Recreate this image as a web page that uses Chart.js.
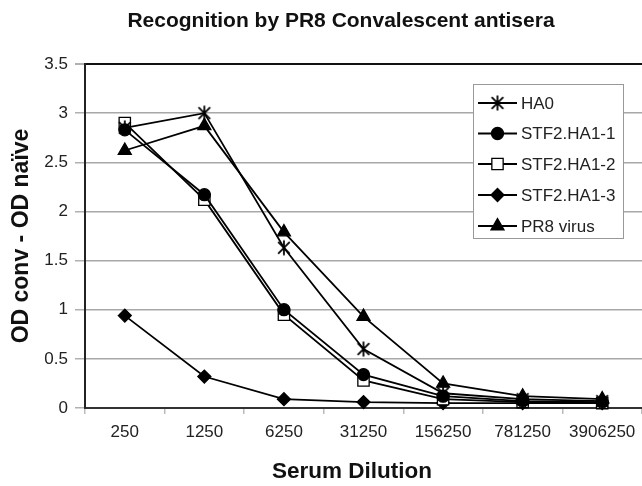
<!DOCTYPE html>
<html><head><meta charset="utf-8">
<script src="https://cdn.jsdelivr.net/npm/chart.js@4"></script>
<style>html,body{margin:0;padding:0;background:#fff;overflow:hidden}canvas{display:block}</style>
</head><body>
<canvas id="c" width="642" height="486" style="width:642px;height:486px"></canvas>
<script>
const chartTitle = 'Recognition by PR8 Convalescent antisera';
const xTitle = 'Serum Dilution';
const yTitle = 'OD conv - OD naïve';
const categories = ['250', '1250', '6250', '31250', '156250', '781250', '3906250'];
const seriesNames = ['HA0', 'STF2.HA1-1', 'STF2.HA1-2', 'STF2.HA1-3', 'PR8 virus'];
const ha0 = [2.85, 3.0, 1.63, 0.6, 0.15, 0.09, 0.07];
const ha1_1 = [2.83, 2.17, 1.0, 0.34, 0.12, 0.07, 0.06];
const ha1_2 = [2.9, 2.12, 0.95, 0.28, 0.09, 0.06, 0.05];
const ha1_3 = [0.94, 0.32, 0.09, 0.06, 0.05, 0.05, 0.05];
const pr8 = [2.62, 2.87, 1.79, 0.93, 0.25, 0.12, 0.09];
const yTicks = [0, 0.5, 1, 1.5, 2, 2.5, 3, 3.5];

const FONT = "'Liberation Sans', Arial, Helvetica, sans-serif";

function makeAsterisk() {
  const s = 18, m = s / 2, r = 7.5, d = 5.8;
  const c = document.createElement('canvas');
  c.width = s; c.height = s;
  const g = c.getContext('2d');
  g.strokeStyle = '#000'; g.lineWidth = 1.8;
  g.beginPath();
  g.moveTo(m, m - r); g.lineTo(m, m + r);
  g.moveTo(m - d, m - d); g.lineTo(m + d, m + d);
  g.moveTo(m + d, m - d); g.lineTo(m - d, m + d);
  g.stroke();
  return c;
}
const asterisk = makeAsterisk();

const styles = [
  { pointStyle: asterisk, radius: 7, bg: '#000' },
  { pointStyle: 'circle', radius: 6, bg: '#000' },
  { pointStyle: 'rect', radius: 8, bg: '#fff' },
  { pointStyle: 'rectRot', radius: 6.5, bg: '#000' },
  { pointStyle: 'triangle', radius: 7.5, bg: '#000' }
];
const values = [ha0, ha1_1, ha1_2, ha1_3, pr8];

const datasets = seriesNames.map((name, i) => ({
  label: name,
  data: values[i],
  borderColor: '#000',
  borderWidth: 1.8,
  pointStyle: styles[i].pointStyle,
  pointRadius: styles[i].radius,
  pointBackgroundColor: styles[i].bg,
  pointBorderColor: '#000',
  pointBorderWidth: 1.3,
  tension: 0,
  fill: false,
  clip: false
}));

const textPlugin = {
  id: 'texts',
  afterDraw(chart) {
    const ctx = chart.ctx;
    ctx.save();
    ctx.fillStyle = '#111';
    ctx.textAlign = 'center';
    ctx.textBaseline = 'middle';
    ctx.font = 'bold 21px ' + FONT;
    ctx.fillText(chartTitle, 341, 21);
    ctx.font = 'bold 22.5px ' + FONT;
    ctx.fillText(xTitle, 352, 472);
    ctx.restore();
  }
};

const legendPlugin = {
  id: 'boxLegend',
  afterDraw(chart) {
    const ctx = chart.ctx;
    const bx = 473, by = 84, bw = 150, bh = 154;
    ctx.save();
    ctx.fillStyle = '#fff';
    ctx.fillRect(bx, by, bw, bh);
    ctx.strokeStyle = '#999';
    ctx.lineWidth = 1;
    ctx.strokeRect(bx + 0.5, by + 0.5, bw, bh);
    const rows = [103, 133.5, 164, 195, 226];
    chart.data.datasets.forEach((ds, i) => {
      const y = rows[i];
      ctx.strokeStyle = '#000';
      ctx.lineWidth = 1.8;
      ctx.beginPath();
      ctx.moveTo(478, y); ctx.lineTo(517, y);
      ctx.stroke();
      ctx.fillStyle = ds.pointBackgroundColor;
      ctx.strokeStyle = '#000';
      ctx.lineWidth = ds.pointBorderWidth;
      Chart.helpers.drawPoint(ctx, { pointStyle: ds.pointStyle, radius: ds.pointRadius, rotation: 0, borderWidth: ds.pointBorderWidth }, 497.5, y);
      ctx.fillStyle = '#222';
      ctx.font = '17px ' + FONT;
      ctx.textAlign = 'left';
      ctx.textBaseline = 'middle';
      ctx.fillText(ds.label, 521, y + 1);
    });
    ctx.restore();
  }
};

new Chart(document.getElementById('c'), {
  type: 'line',
  data: { labels: categories, datasets },
  options: {
    responsive: false,
    animation: false,
    events: [],
    layout: { autoPadding: false, padding: { top: 64, left: 0, right: 0, bottom: 0 } },
    plugins: { legend: { display: false }, title: { display: false }, tooltip: { enabled: false } },
    scales: {
      x: {
        offset: true,
        afterFit(s) { s.height = 78; s.paddingRight = 0; s.paddingLeft = 0; },
        grid: { display: true, drawOnChartArea: false, drawTicks: true, tickLength: 6, offset: true, tickColor: '#bbb', lineWidth: 1.5 },
        border: { display: true, color: '#333', width: 2 },
        ticks: { color: '#222', font: { family: FONT, size: 17 }, padding: 8, maxRotation: 0, autoSkip: false }
      },
      y: {
        min: 0, max: 3.5,
        afterFit(s) { s.width = 85; },
        afterBuildTicks(s) { s.ticks = yTicks.map(v => ({ value: v })); },
        grid: {
          color: c => (c.tick && c.tick.value === 3.5) ? '#111' : '#a8a8a8',
          lineWidth: c => (c.tick && c.tick.value === 3.5) ? 2 : 1.5,
          tickColor: '#b0b0b0',
          tickLength: 10
        },
        border: { display: true, color: '#222', width: 2 },
        ticks: { color: '#222', font: { family: FONT, size: 17 }, padding: 7, callback: v => String(v) },
        title: { display: true, text: yTitle, color: '#111', font: { family: FONT, size: 23, weight: 'bold' }, padding: { top: 8, bottom: 0 } }
      }
    }
  },
  plugins: [textPlugin, legendPlugin]
});
</script>
</body></html>
